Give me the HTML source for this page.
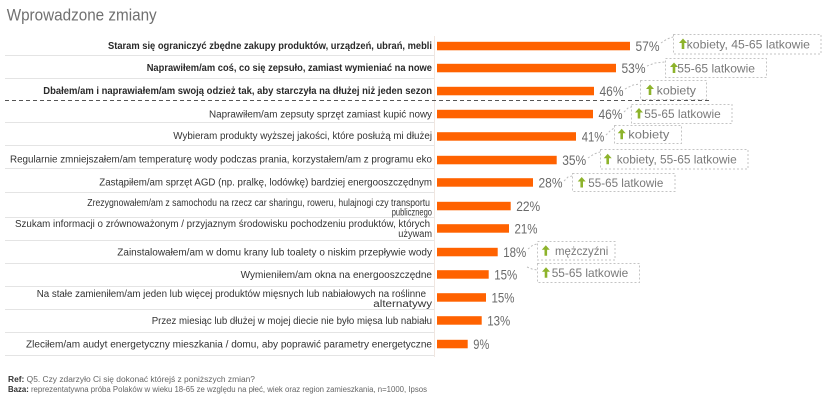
<!DOCTYPE html>
<html>
<head>
<meta charset="utf-8">
<style>
  html,body{margin:0;padding:0;background:#fff;}
  svg{display:block;}
  text{font-family:"Liberation Sans","DejaVu Sans",sans-serif;}
</style>
</head>
<body>
<svg width="830" height="403" viewBox="0 0 830 403" xmlns="http://www.w3.org/2000/svg">
  <rect x="0" y="0" width="830" height="403" fill="#ffffff"/>

  <!-- Title -->
  <text x="6.7" y="20.5" font-size="17" fill="#707070" textLength="150" lengthAdjust="spacingAndGlyphs">Wprowadzone zmiany</text>

  <!-- row dividers -->
  <g stroke="#e4e4e4" stroke-width="1">
    <line x1="5" y1="55.5" x2="434" y2="55.5"/>
    <line x1="5" y1="78.5" x2="434" y2="78.5"/>
    <line x1="5" y1="122.5" x2="434" y2="122.5"/>
    <line x1="5" y1="145.5" x2="434" y2="145.5"/>
    <line x1="5" y1="168.5" x2="434" y2="168.5"/>
    <line x1="5" y1="192.5" x2="434" y2="192.5"/>
    <line x1="5" y1="217.5" x2="434" y2="217.5"/>
    <line x1="5" y1="240.5" x2="434" y2="240.5"/>
    <line x1="5" y1="263.5" x2="434" y2="263.5"/>
    <line x1="5" y1="286.5" x2="434" y2="286.5"/>
    <line x1="5" y1="309.5" x2="434" y2="309.5"/>
    <line x1="5" y1="332.5" x2="434" y2="332.5"/>
    <line x1="5" y1="355.5" x2="434" y2="355.5"/>
  </g>
  <!-- axis line -->
  <line x1="434.5" y1="36" x2="434.5" y2="357" stroke="#f0e6e0" stroke-width="1"/>
  <!-- dashed separator -->
  <line x1="5" y1="100.5" x2="712" y2="100.5" stroke="#555" stroke-width="1" stroke-dasharray="4,3"/>

  <!-- labels -->
  <g font-size="10" fill="#2a2a2a">
    <text x="108" y="49" font-weight="bold" textLength="324" lengthAdjust="spacingAndGlyphs">Staram się ograniczyć zbędne zakupy produktów, urządzeń, ubrań, mebli</text>
    <text x="146.7" y="71" font-weight="bold" textLength="285.3" lengthAdjust="spacingAndGlyphs">Naprawiłem/am coś, co się zepsuło, zamiast wymieniać na nowe</text>
    <text x="43.3" y="94" font-weight="bold" textLength="388.7" lengthAdjust="spacingAndGlyphs">Dbałem/am i naprawiałem/am swoją odzież tak, aby starczyła na dłużej niż jeden sezon</text>
    <text x="209" y="117.5" fill="#333" textLength="223" lengthAdjust="spacingAndGlyphs">Naprawiłem/am zepsuty sprzęt zamiast kupić nowy</text>
    <text x="173.3" y="139" fill="#333" textLength="258.7" lengthAdjust="spacingAndGlyphs">Wybieram produkty wyższej jakości, które posłużą mi dłużej</text>
    <text x="10" y="162.5" fill="#333" textLength="422" lengthAdjust="spacingAndGlyphs">Regularnie zmniejszałem/am temperaturę wody podczas prania, korzystałem/am z programu eko</text>
    <text x="99.3" y="185.5" fill="#333" textLength="332.7" lengthAdjust="spacingAndGlyphs">Zastąpiłem/am sprzęt AGD (np. pralkę, lodówkę) bardziej energooszczędnym</text>
    <text x="87.3" y="206" fill="#333" textLength="342.7" lengthAdjust="spacingAndGlyphs">Zrezygnowałem/am z samochodu na rzecz car sharingu, roweru, hulajnogi czy transportu</text>
    <text x="391.7" y="215.5" fill="#333" textLength="40.3" lengthAdjust="spacingAndGlyphs">publicznego</text>
    <text x="15" y="227" fill="#333" textLength="415" lengthAdjust="spacingAndGlyphs">Szukam informacji o zrównoważonym / przyjaznym środowisku pochodzeniu produktów, których</text>
    <text x="398.3" y="237" fill="#333" textLength="33.7" lengthAdjust="spacingAndGlyphs">używam</text>
    <text x="117.3" y="255.5" fill="#333" textLength="314.7" lengthAdjust="spacingAndGlyphs">Zainstalowałem/am w domu krany lub toalety o niskim przepływie wody</text>
    <text x="240.7" y="278" fill="#333" textLength="191.3" lengthAdjust="spacingAndGlyphs">Wymieniłem/am okna na energooszczędne</text>
    <text x="36.7" y="297" fill="#333" textLength="389.3" lengthAdjust="spacingAndGlyphs">Na stałe zamieniłem/am jeden lub więcej produktów mięsnych lub nabiałowych na roślinne</text>
    <text x="373.3" y="307" fill="#333" textLength="58.7" lengthAdjust="spacingAndGlyphs">alternatywy</text>
    <text x="151.7" y="324" fill="#333" textLength="280.3" lengthAdjust="spacingAndGlyphs">Przez miesiąc lub dłużej w mojej diecie nie było mięsa lub nabiału</text>
    <text x="26" y="347.5" fill="#333" textLength="406" lengthAdjust="spacingAndGlyphs">Zleciłem/am audyt energetyczny mieszkania / domu, aby poprawić parametry energetyczne</text>
  </g>

  <!-- bars -->
  <g fill="#ff6200">
    <rect x="437" y="41.8" width="193" height="8.5"/>
    <rect x="437" y="63.8" width="179" height="8.5"/>
    <rect x="437" y="86.8" width="157" height="8.5"/>
    <rect x="437" y="109.8" width="156" height="8.5"/>
    <rect x="437" y="132.2" width="139" height="8.5"/>
    <rect x="437" y="155.8" width="119.7" height="8.5"/>
    <rect x="437" y="178.2" width="96" height="8.5"/>
    <rect x="437" y="201.8" width="73.7" height="8.5"/>
    <rect x="437" y="224.2" width="72" height="8.5"/>
    <rect x="437" y="247.8" width="60.7" height="8.5"/>
    <rect x="437" y="270.2" width="51.7" height="8.5"/>
    <rect x="437" y="293.2" width="49" height="8.5"/>
    <rect x="437" y="316.2" width="44.7" height="8.5"/>
    <rect x="437" y="339.8" width="30.7" height="8.5"/>
  </g>

  <!-- percent labels -->
  <g font-size="13.5" fill="#6a6a6a">
    <text x="635.5" y="51" textLength="24" lengthAdjust="spacingAndGlyphs">57%</text>
    <text x="621.5" y="73" textLength="24" lengthAdjust="spacingAndGlyphs">53%</text>
    <text x="599.5" y="96" textLength="24" lengthAdjust="spacingAndGlyphs">46%</text>
    <text x="598.5" y="119" textLength="24" lengthAdjust="spacingAndGlyphs">46%</text>
    <text x="581.7" y="141.5" textLength="22.6" lengthAdjust="spacingAndGlyphs">41%</text>
    <text x="562.2" y="165" textLength="24" lengthAdjust="spacingAndGlyphs">35%</text>
    <text x="538.5" y="187.5" textLength="24" lengthAdjust="spacingAndGlyphs">28%</text>
    <text x="516.2" y="211" textLength="24" lengthAdjust="spacingAndGlyphs">22%</text>
    <text x="514.5" y="233.5" textLength="23" lengthAdjust="spacingAndGlyphs">21%</text>
    <text x="503.2" y="257" textLength="23" lengthAdjust="spacingAndGlyphs">18%</text>
    <text x="494.2" y="279.5" textLength="23" lengthAdjust="spacingAndGlyphs">15%</text>
    <text x="491.5" y="302.5" textLength="23" lengthAdjust="spacingAndGlyphs">15%</text>
    <text x="487.2" y="325.5" textLength="23" lengthAdjust="spacingAndGlyphs">13%</text>
    <text x="473.3" y="349" textLength="16" lengthAdjust="spacingAndGlyphs">9%</text>
  </g>

  <!-- connectors -->
  <g stroke="#bdbdbd" stroke-width="1" stroke-dasharray="2,2" fill="none">
    <polyline points="661,43 667,39 673,37"/>
    <polyline points="647,66 655,63 665,62"/>
    <polyline points="625,89 633,85 640,84"/>
    <polyline points="624,112 628,108 631,107"/>
    <polyline points="606,135 610,131 614,128"/>
    <polyline points="588,158 594,154 600,152"/>
    <polyline points="564,181 568,177 572,176"/>
    <polyline points="528,249 533,245 537,244"/>
    <polyline points="527,267 532,269 537,270"/>
  </g>

  <!-- callout boxes -->
  <g stroke="#c4c4c4" stroke-width="1" stroke-dasharray="2,2" fill="none">
    <rect x="673.5" y="34.5" width="147.5" height="19.5"/>
    <rect x="665.5" y="58.5" width="101" height="19"/>
    <rect x="640.5" y="80.5" width="66" height="19"/>
    <rect x="631.5" y="104.5" width="100.5" height="19"/>
    <rect x="614.5" y="125.5" width="67" height="18"/>
    <rect x="600.5" y="149.5" width="147.5" height="19.5"/>
    <rect x="572.5" y="173.5" width="102.5" height="18"/>
    <rect x="537.5" y="241.5" width="77.5" height="18.5"/>
    <rect x="537.5" y="263.5" width="102" height="19"/>
  </g>

  <!-- arrows -->
  <g fill="#8db32b">
    <path d="M679,43 L683,38.5 L687,43 L684.3,43 L684.3,49 L681.7,49 L681.7,43 Z"/>
    <path d="M670,67 L674,62.5 L678,67 L675.3,67 L675.3,73 L672.7,73 L672.7,67 Z"/>
    <path d="M646,89 L650,84.5 L654,89 L651.3,89 L651.3,95 L648.7,95 L648.7,89 Z"/>
    <path d="M635,112.5 L639,108 L643,112.5 L640.3,112.5 L640.3,118.5 L637.7,118.5 L637.7,112.5 Z"/>
    <path d="M617.7,133.3 L621.7,128.8 L625.7,133.3 L623,133.3 L623,139.3 L620.4,139.3 L620.4,133.3 Z"/>
    <path d="M603.7,158.3 L607.7,153.8 L611.7,158.3 L609,158.3 L609,164.3 L606.4,164.3 L606.4,158.3 Z"/>
    <path d="M577.7,181.5 L581.7,177 L585.7,181.5 L583,181.5 L583,187.5 L580.4,187.5 L580.4,181.5 Z"/>
    <path d="M541.8,249.8 L545.8,245.3 L549.8,249.8 L547.1,249.8 L547.1,255.8 L544.5,255.8 L544.5,249.8 Z"/>
    <path d="M542,271.7 L546,267.2 L550,271.7 L547.3,271.7 L547.3,277.7 L544.7,277.7 L544.7,271.7 Z"/>
  </g>

  <!-- callout texts -->
  <g font-size="12" fill="#7a7a7a">
    <text x="686.7" y="48.5" textLength="123.3" lengthAdjust="spacingAndGlyphs">kobiety, 45-65 latkowie</text>
    <text x="677.3" y="72.3" textLength="77.7" lengthAdjust="spacingAndGlyphs">55-65 latkowie</text>
    <text x="656.7" y="94.3" textLength="39.3" lengthAdjust="spacingAndGlyphs">kobiety</text>
    <text x="644.3" y="117.8" textLength="76.4" lengthAdjust="spacingAndGlyphs">55-65 latkowie</text>
    <text x="628.3" y="138.6" textLength="41" lengthAdjust="spacingAndGlyphs">kobiety</text>
    <text x="616.7" y="163.6" textLength="120" lengthAdjust="spacingAndGlyphs">kobiety, 55-65 latkowie</text>
    <text x="588.3" y="186.8" textLength="75" lengthAdjust="spacingAndGlyphs">55-65 latkowie</text>
    <text x="555" y="255.1" textLength="53.3" lengthAdjust="spacingAndGlyphs">mężczyźni</text>
    <text x="551.7" y="277" textLength="76.6" lengthAdjust="spacingAndGlyphs">55-65 latkowie</text>
  </g>

  <!-- footer -->
  <text x="8" y="382" font-size="8" fill="#666" textLength="247" lengthAdjust="spacingAndGlyphs"><tspan font-weight="bold" fill="#333">Ref:</tspan> Q5. Czy zdarzyło Ci się dokonać którejś z poniższych zmian?</text>
  <text x="8" y="392" font-size="8" fill="#666" textLength="419" lengthAdjust="spacingAndGlyphs"><tspan font-weight="bold" fill="#333">Baza:</tspan> reprezentatywna próba Polaków w wieku 18-65 ze względu na płeć, wiek oraz region zamieszkania, n=1000, Ipsos</text>
</svg>
</body>
</html>
